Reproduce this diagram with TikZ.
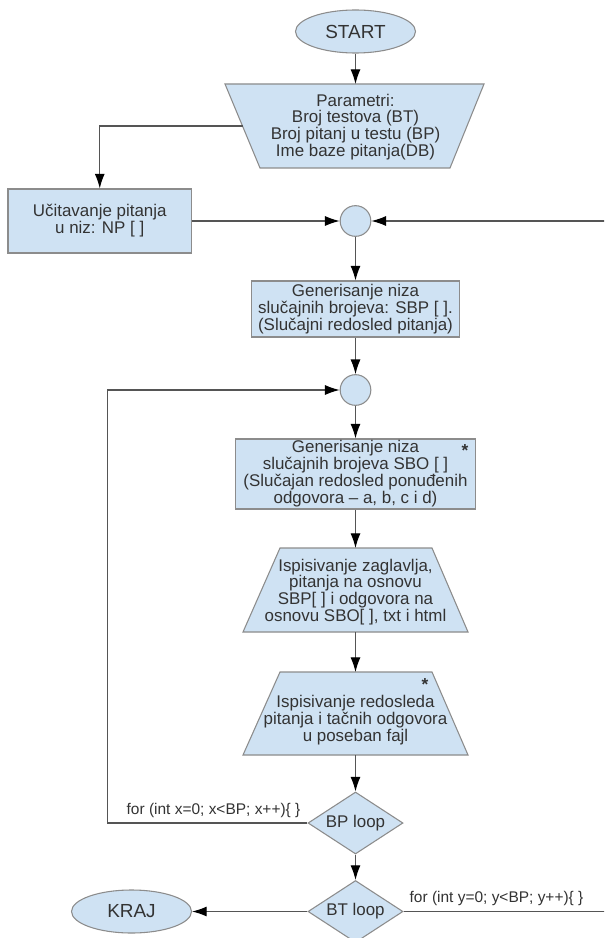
\documentclass[tikz,border=0pt]{standalone}
\usepackage{fontspec}
\setmainfont{Liberation Sans}
\usetikzlibrary{shapes.geometric,arrows.meta}
\definecolor{boxfill}{HTML}{CFE2F3}
\definecolor{boxdraw}{HTML}{8C8C8C}
\definecolor{txt}{HTML}{333333}
\definecolor{conn}{HTML}{555555}
\begin{document}
\begin{tikzpicture}[x=0.75pt,y=-0.75pt,
 shapeline/.style={draw=boxdraw, fill=boxfill, line width=0.8pt},
 base/.style={shapeline, inner sep=0pt, align=center, text=txt, font=\fontsize{12.7}{12.7}\selectfont},
 term/.style={base, ellipse, minimum width=90pt, minimum height=32.25pt, font=\fontsize{14.2}{16}\selectfont},
 proc/.style={base, rectangle},
 joinpt/.style={base, circle, minimum size=23pt},
 loopd/.style={base, diamond, aspect=1.53, minimum width=71.25pt, minimum height=46.5pt},
 plain/.style={inner sep=0pt, align=center, text=txt, font=\fontsize{12.7}{12.6}\selectfont},
 lbl/.style={inner sep=0pt, text=txt, font=\fontsize{11.6}{13}\selectfont},
 star/.style={inner sep=0pt, text=txt, font=\fontsize{13}{13}\selectfont\bfseries},
 arr/.style={draw=conn, line width=0.8pt, -{Latex[length=11pt,width=7.5pt,color=black]}},
]
\clip (0,0) rectangle (604,938);
\fill[white] (0,0) rectangle (604,938);

% input trapezoid (wide top)
\draw[shapeline] (225,84) -- (484,84) -- (450,168) -- (260,168) -- cycle;
\coordinate (parN) at (355.5,84);
\coordinate (parS) at (355.5,168);
\coordinate (parW) at (242.5,126);
% output trapezoids (wide bottom)
\draw[shapeline] (280,548) -- (432,548) -- (468,632) -- (243,632) -- cycle;
\coordinate (isp1N) at (355.5,548);
\coordinate (isp1S) at (355.5,632);
\draw[shapeline] (280,672) -- (432,672) -- (468,755) -- (243,755) -- cycle;
\coordinate (isp2N) at (355.5,672);
\coordinate (isp2S) at (355.5,755);

\node[term] (start) at (355.5,31.5) {START};
\node[plain] (partxt) at (355.5,127) {Parametri:\\Broj testova (BT)\\Broj pitanj u testu (BP)\\Ime baze pitanja(DB)};
\node[proc, minimum width=137.6pt, minimum height=48pt] (ucit) at (99.75,221) {Učitavanje pitanja\\u niz: NP [ ]};
\node[joinpt] (c1) at (355.5,221) {};
\node[proc, minimum width=155.6pt, minimum height=42pt] (gen1) at (355.5,309) {Generisanje niza\\slučajnih brojeva: SBP [ ].\\(Slučajni redosled pitanja)};
\node[joinpt] (c2) at (355.5,390) {};
\node[proc, minimum width=180pt, minimum height=52.5pt] (gen2) at (355.5,474) {Generisanje niza\\slučajnih brojeva SBO [ ]\\(Slučajan redosled ponuđenih\\odgovora – a, b, c i d)};
\node[star] (st1) at (465,451) {*};
\node[plain] (isp1txt) at (355.5,592) {Ispisivanje zaglavlja,\\pitanja na osnovu\\SBP[ ] i odgovora na\\osnovu SBO[ ], txt i html};
\node[plain] (isp2txt) at (355.5,720) {Ispisivanje redosleda\\pitanja i tačnih odgovora\\u poseban fajl};
\node[star] (st2) at (425,685) {*};
\node[loopd] (bp) at (355.5,823) {BP loop};
\node[loopd] (bt) at (355.5,911.5) {BT loop};
\node[term] (kraj) at (131.5,911.5) {KRAJ};

\node[lbl] (lx) at (213.5,810) {for (int x=0; x<BP; x++)\{ \}};
\node[lbl] (ly) at (496.5,898) {for (int y=0; y<BP; y++)\{ \}};

\coordinate (lp) at (107.5,823);
\coordinate (rb) at (614,911.5);
\coordinate (rt) at (614,221);

\draw[arr] (start) -- (parN);
\draw[arr] (parW) -| (ucit.north);
\draw[arr] (ucit) -- (c1);
\draw[arr] (rb) -- (rt) -- (c1);
\draw[conn, line width=0.8pt] (bt.east) -- (rb);
\draw[arr] (c1) -- (gen1);
\draw[arr] (gen1) -- (c2);
\draw[arr] (c2) -- (gen2);
\draw[arr] (gen2) -- (isp1N);
\draw[arr] (isp1S) -- (isp2N);
\draw[arr] (isp2S) -- (bp);
\draw[arr] (bp.west) -- (lp) |- (c2);
\draw[arr] (bp) -- (bt);
\draw[arr] (bt) -- (kraj);
\end{tikzpicture}
\end{document}
